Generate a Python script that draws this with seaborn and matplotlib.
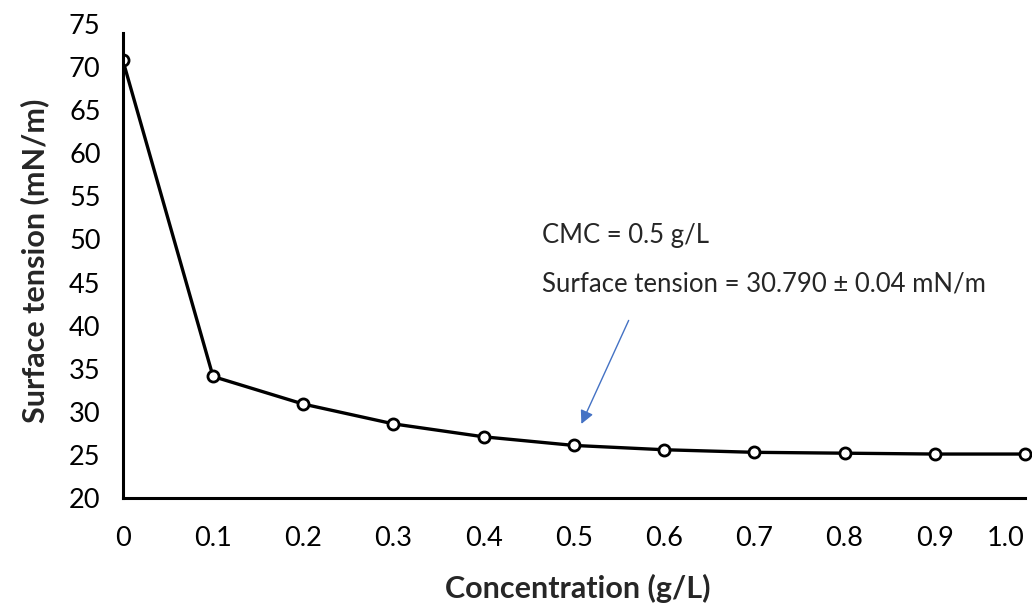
import matplotlib
matplotlib.use("Agg")
import matplotlib.pyplot as plt
import seaborn as sns

conc = [0.0, 0.1, 0.2, 0.3, 0.4, 0.5, 0.6, 0.7, 0.8, 0.9, 1.0]
tension = [70.8, 34.1, 30.9, 28.6, 27.1, 26.1, 25.6, 25.3, 25.2, 25.1, 25.1]
xticks = [0.0, 0.1, 0.2, 0.3, 0.4, 0.5, 0.6, 0.7, 0.8, 0.9, 1.0]
xticklabels = ["0", "0.1", "0.2", "0.3", "0.4", "0.5", "0.6", "0.7", "0.8", "0.9", "1.0"]
yticks = [20, 25, 30, 35, 40, 45, 50, 55, 60, 65, 70, 75]

sns.set_style("white")
plt.rcParams["font.family"] = ["Lato", "DejaVu Sans"]

fig = plt.figure(figsize=(10.32, 6.13), dpi=100)
ax = fig.add_axes([0.119, 0.1876, 0.881, 0.7733])

sns.lineplot(x=conc, y=tension, ax=ax, color="black", linewidth=2.4,
             marker="o", markersize=8, markerfacecolor="white",
             markeredgecolor="black", markeredgewidth=2)

ax.set_xlim(0, 1.0078)
ax.set_ylim(20, 75)
ax.set_xticks(xticks)
ax.set_xticklabels(xticklabels)
ax.get_xticklabels()[-1].set_ha("right")
ax.set_yticks(yticks)
ax.tick_params(axis="both", length=0, labelsize=19.5, colors="black")
ax.tick_params(axis="x", pad=20)
ax.tick_params(axis="y", pad=16)

for s in ["top", "right"]:
    ax.spines[s].set_visible(False)
ax.spines["left"].set_bounds(20, 74)
ax.spines["bottom"].set_bounds(0, 1.0)
for s in ["left", "bottom"]:
    ax.spines[s].set_color("black")
    ax.spines[s].set_linewidth(2.2)

ax.set_xlabel("Concentration (g/L)", fontsize=22, fontweight="bold", labelpad=17)
ax.set_ylabel("Surface tension (mN/m)", fontsize=22, fontweight="bold", labelpad=14)

ax.text(0.4645, 49.6, "CMC = 0.5 g/L", fontsize=18.5, va="baseline")
ax.text(0.4645, 44.0, "Surface tension = 30.790 \u00b1 0.04 mN/m", fontsize=18.5, va="baseline")
ax.annotate("", xy=(0.507, 28.3), xytext=(0.562, 40.9),
            arrowprops=dict(arrowstyle="-|>", color="#4472C4", lw=1,
                            mutation_scale=20))

fig.savefig("out.png", dpi=100)
